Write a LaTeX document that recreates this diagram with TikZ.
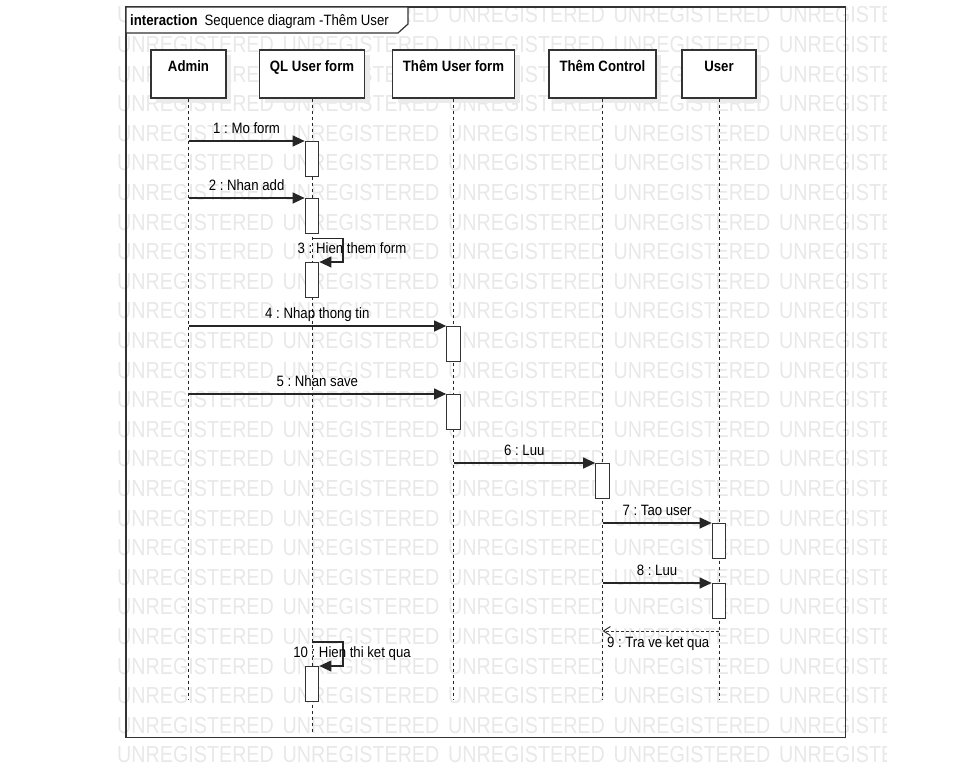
\documentclass[tikz,border=0pt]{standalone}
\usepackage{fontspec}
\setmainfont{Liberation Sans}[FakeStretch=0.88]
\newfontfamily\wmfont{Liberation Sans}[FakeStretch=0.85]
\usetikzlibrary{arrows.meta,shadows}
\frenchspacing

\begin{document}
\begin{tikzpicture}[
        x = 1pt,
        y = -1pt,
        every node/.style = {font=\fontsize{15}{18}\selectfont},
        head/.style = {draw=black!80, line width=1.2pt, fill=white, minimum width=#1, minimum height=48pt, inner sep=0pt, text height=11pt, text depth=16pt, font=\fontsize{15}{18}\selectfont\bfseries, drop shadow={shadow xshift=5pt, shadow yshift=-5pt, fill=black!8, opacity=1}},
        act/.style = {draw=black!80, line width=1.2pt, fill=white, minimum width=13.5pt, minimum height=35pt, inner sep=0pt, anchor=north},
        lifeline/.style = {draw=black!85, line width=1pt, dash pattern=on 3pt off 3pt},
        msg/.style = {draw=black!85, line width=1.2pt, -{Triangle[length=12pt,width=11pt]}},
        reply/.style = {draw=black!80, line width=1pt, dash pattern=on 3pt off 2pt, -{Straight Barb[length=7pt,width=9pt]}},
        lbl/.style = {inner sep=0pt, text height=11pt, text depth=4pt},
        wm/.style = {text=black!9, anchor=west, inner sep=0pt, font=\wmfont\fontsize{23.2}{26}\selectfont}
        ]
        \useasboundingbox (0,0) rectangle (976,771);
        \begin{scope}
            \clip (0,0) rectangle (886,771);
            \foreach \i in {0,...,4}
                \foreach \j in {0,...,25}
                    \node[wm] (wm-\i-\j) at (117+165.5*\i, 15+29.6*\j) {UNREGISTERED};
        \end{scope}

        \draw[black!80, line width=1.5pt] (126,7) rectangle (845.7,737.7);
        \draw[black!80, line width=1.2pt, fill=white] (126,7) -- (408,7) -- (408,24) -- (398,33) -- (126,33) -- cycle;
        \node[anchor=base west, inner sep=0pt] (title) at (130,25) {\textbf{interaction}\hspace{7pt}Sequence diagram -Thêm User};

        \node[head=75pt] (admin) at (188.5,74) {Admin};
        \node[head=105pt] (qlform) at (312,74) {QL User form};
        \node[head=122pt] (themform) at (453.5,74) {Thêm User form};
        \node[head=107pt] (control) at (602.5,74) {Thêm Control};
        \node[head=74pt] (user) at (719,74) {User};

        \coordinate (admin-end) at (admin.south |- 0,700);
        \coordinate (qlform-end) at (qlform.south |- 0,732);
        \coordinate (themform-end) at (themform.south |- 0,700);
        \coordinate (control-end) at (control.south |- 0,700);
        \coordinate (user-end) at (user.south |- 0,700);
        \draw[lifeline] (admin) -- (admin-end);
        \draw[lifeline] (qlform) -- (qlform-end);
        \draw[lifeline] (themform) -- (themform-end);
        \draw[lifeline] (control) -- (control-end);
        \draw[lifeline] (user) -- (user-end);

        \node[act] (act1) at (qlform.south |- 0,141) {};
        \node[act] (act2) at (qlform.south |- 0,198) {};
        \node[act] (act3) at (qlform.south |- 0,262) {};
        \node[act] (act4) at (themform.south |- 0,326) {};
        \node[act] (act5) at (themform.south |- 0,394) {};
        \node[act] (act6) at (control.south |- 0,463) {};
        \node[act] (act7) at (user.south |- 0,523) {};
        \node[act] (act8) at (user.south |- 0,583) {};
        \node[act] (act10) at (qlform.south |- 0,666) {};

        \draw[msg] (act1.north west -| admin.south) -- (act1.north west) node[lbl, midway, above=3pt] {1 : Mo form};
        \draw[msg] (act2.north west -| admin.south) -- (act2.north west) node[lbl, midway, above=3pt] {2 : Nhan add};
        \draw[msg] (act2.south) ++(0,4) -- ++(31,0) |- (act3.north east) node[lbl, pos=0.25, xshift=9pt] {3 : Hien them form};
        \draw[msg] (act4.north west -| admin.south) -- (act4.north west) node[lbl, midway, above=3pt] {4 : Nhap thong tin};
        \draw[msg] (act5.north west -| admin.south) -- (act5.north west) node[lbl, midway, above=3pt] {5 : Nhan save};
        \draw[msg] (act6.north west -| themform.south) -- (act6.north west) node[lbl, midway, above=3pt] {6 : Luu};
        \draw[msg] (act7.north west -| control.south) -- (act7.north west) node[lbl, midway, above=3pt] {7 : Tao user};
        \draw[msg] (act8.north west -| control.south) -- (act8.north west) node[lbl, midway, above=3pt] {8 : Luu};
        \draw[reply] (user.south |- 0,631) -- (control.south |- 0,631) node[lbl, pos=1, anchor=north west, xshift=4pt, yshift=-5pt] {9 : Tra ve ket qua};
        \draw[msg] (act10.north) ++(0,-24) -- ++(31,0) |- (act10.north east) node[lbl, pos=0.25, xshift=9pt] {10 : Hien thi ket qua};
    \end{tikzpicture}
\end{document}
